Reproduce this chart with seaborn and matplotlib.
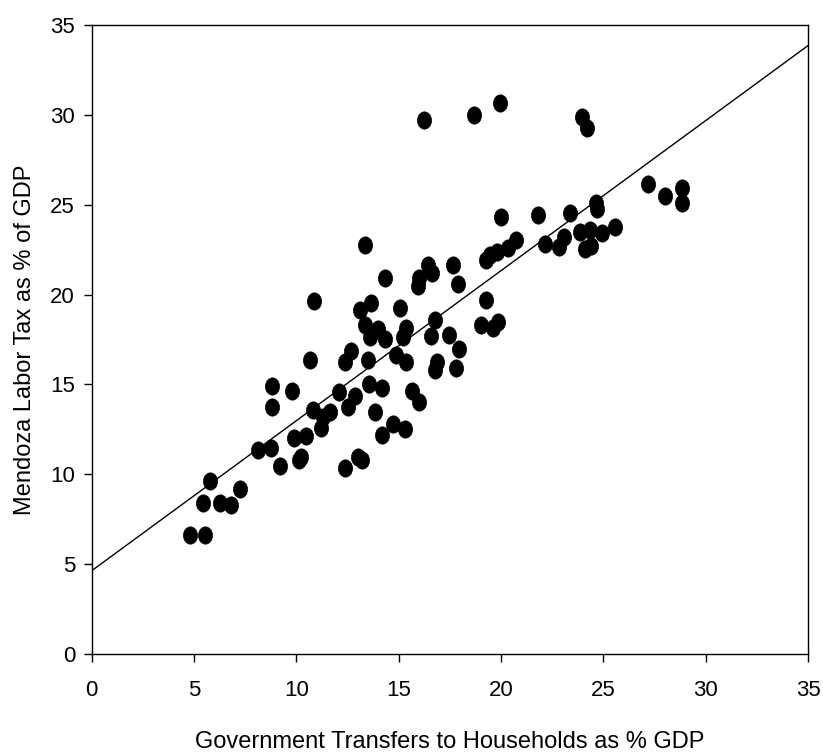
import numpy as np
import pandas as pd
import matplotlib
matplotlib.use("Agg")
import matplotlib.pyplot as plt
from matplotlib.path import Path
import seaborn as sns

# ── Data ───────────────────────────────────────────────────────────────────
transfers = [
    4.80, 5.53, 5.44, 5.77, 6.29, 6.83, 7.27, 8.13, 8.78, 9.19,
    8.81, 8.81, 9.80, 9.87, 10.49, 10.13, 10.24, 10.86, 10.65, 10.81,
    11.22, 11.30, 11.62, 12.10, 12.36, 12.50, 12.40, 12.65, 12.89, 13.00,
    13.22, 13.54, 14.17, 13.82, 15.66, 16.01, 14.71, 15.33, 14.17, 13.33,
    14.31, 16.42, 16.61, 16.01, 15.96, 17.67, 17.88, 19.27, 19.46, 19.79,
    20.32, 20.73, 20.00, 13.09, 13.66, 15.04, 13.36, 13.62, 14.00, 14.35,
    15.37, 15.22, 16.75, 16.58, 17.48, 17.97, 19.27, 19.02, 19.59, 19.83,
    13.49, 14.88, 15.37, 16.87, 16.75, 17.80, 16.26, 18.66, 19.95, 23.95,
    24.18, 27.19, 28.00, 28.83, 28.83, 24.63, 24.67, 23.38, 21.81, 25.55,
    24.91, 24.36, 23.86, 24.11, 24.39, 23.09, 22.81, 22.16,
]
labor_tax = [
    6.62, 6.62, 8.39, 9.63, 8.42, 8.29, 9.18, 11.35, 11.45, 10.46,
    14.91, 13.73, 14.64, 12.00, 12.15, 10.80, 10.98, 19.64, 16.36, 13.58,
    12.60, 13.20, 13.45, 14.57, 10.33, 13.76, 16.25, 16.85, 14.36, 10.98,
    10.80, 15.00, 14.79, 13.46, 14.62, 14.02, 12.79, 12.53, 12.21, 22.77,
    20.91, 21.65, 21.19, 20.91, 20.46, 21.65, 20.59, 21.93, 22.20, 22.39,
    22.60, 23.04, 24.30, 19.16, 19.53, 19.26, 18.31, 17.66, 18.07, 17.54,
    18.16, 17.66, 18.59, 17.68, 17.75, 16.96, 19.70, 18.31, 18.12, 18.49,
    16.38, 16.61, 16.22, 16.27, 15.80, 15.90, 29.72, 29.99, 30.68, 29.87,
    29.25, 26.14, 25.51, 25.95, 25.08, 25.08, 24.76, 24.56, 24.43, 23.76,
    23.41, 23.61, 23.46, 22.52, 22.71, 23.19, 22.67, 22.80,
]
x_ticks = [0, 5, 10, 15, 20, 25, 30, 35]
y_ticks = [0, 5, 10, 15, 20, 25, 30, 35]

df = pd.DataFrame({"transfers": transfers, "labor_tax": labor_tax})

# ── Style ───────────────────────────────────────────────────────────────────
sns.set_theme(style="white")
plt.rcParams["font.family"] = ["Liberation Sans", "DejaVu Sans"]

# slightly tall ellipse marker
circ = Path.unit_circle()
oval = Path(circ.vertices * np.array([0.82, 1.0]), circ.codes)

fig = plt.figure(figsize=(8.23, 7.55), dpi=100)
ax = fig.add_axes([0.1114, 0.1338, 0.8704, 0.8331])

sns.scatterplot(data=df, x="transfers", y="labor_tax", ax=ax,
                marker=oval, s=155, color="black", edgecolor="black",
                linewidth=0.5, legend=False)

# OLS fit line across the whole axis
slope, intercept = np.polyfit(df["transfers"], df["labor_tax"], 1)
xs = np.array([0, 35])
ax.plot(xs, intercept + slope * xs, color="black", linewidth=1)

ax.set_xlim(0, 35)
ax.set_ylim(0, 35)
ax.set_xticks(x_ticks)
ax.set_yticks(y_ticks)
ax.tick_params(axis="both", direction="out", length=6, width=1,
               labelsize=16, color="black", labelcolor="black",
               bottom=True, left=True)
ax.tick_params(axis="x", pad=13)
ax.tick_params(axis="y", pad=6)
for sp in ax.spines.values():
    sp.set_color("black")
    sp.set_linewidth(1)

ax.set_xlabel("Government Transfers to Households as % GDP", fontsize=17,
              color="black")
ax.xaxis.set_label_coords(0.5, -0.122)
ax.set_ylabel("Mendoza Labor Tax as % of GDP", fontsize=17,
              labelpad=10, color="black")

fig.savefig("out.png", dpi=100, facecolor="white")
